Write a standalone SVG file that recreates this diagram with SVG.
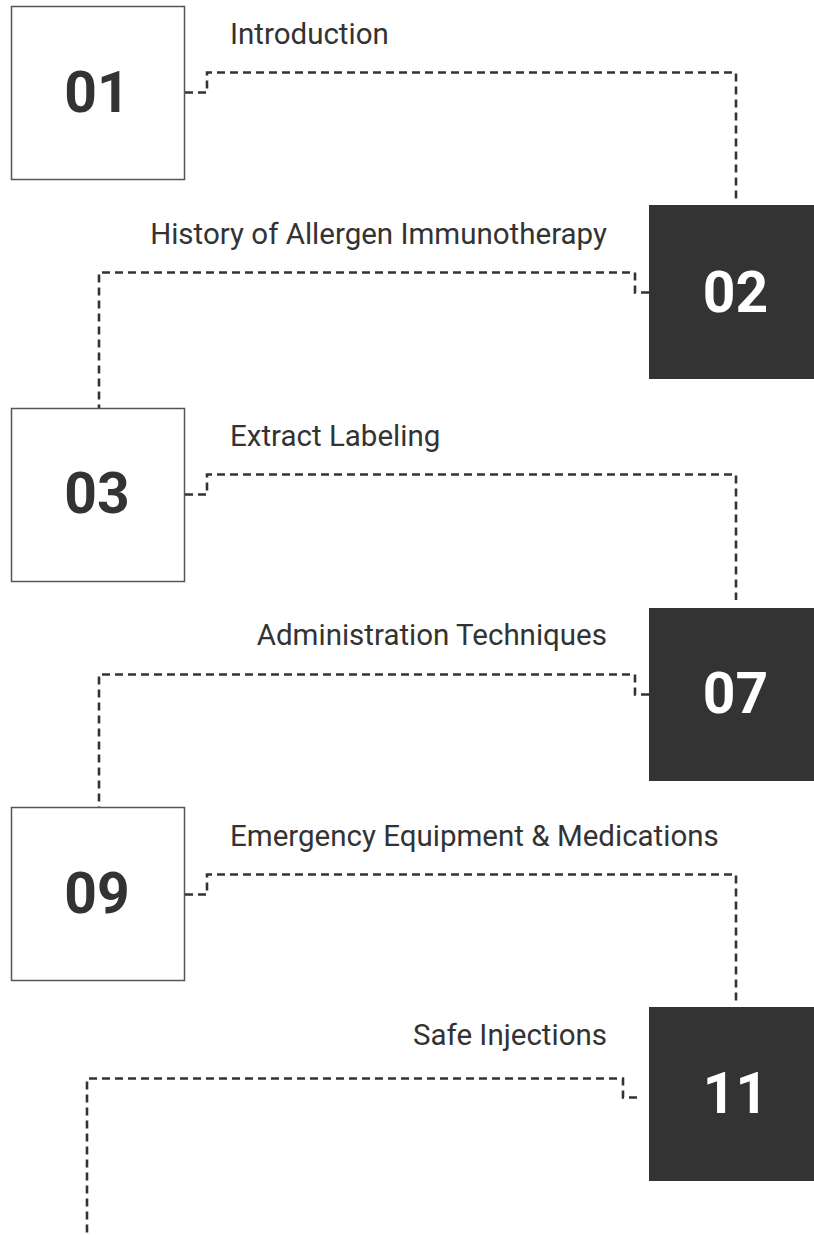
<svg xmlns="http://www.w3.org/2000/svg" width="814" height="1235" viewBox="0 0 814 1235">
<style>
.lb{fill:#fff;stroke:#555;stroke-width:1.5}
.db{fill:#333;stroke:none}
.num{font-family:Roboto,"Liberation Sans",sans-serif;font-weight:bold;font-size:57px;text-anchor:middle}
.nl{fill:#333}
.nd{fill:#fff}
.lbl{font-family:Roboto,"Liberation Sans",sans-serif;font-weight:400;font-size:29.5px;fill:#333}
.end{text-anchor:end}
.con{fill:none;stroke:#333;stroke-width:2.6;stroke-dasharray:8 5}
</style>
<rect width="814" height="1235" fill="#fff"/>
<g id="connectors">
<path class="con" d="M185,92.5 H207 V72.5 H736 V200"/>
<path class="con" d="M649,292.5 H635 V272.5 H99 V408"/>
<path class="con" d="M185,494.5 H207 V474.5 H736 V600"/>
<path class="con" d="M649,694.5 H635 V674.5 H99 V807"/>
<path class="con" d="M185,894.5 H207 V874.5 H736 V1002"/>
<path class="con" d="M637,1097.5 H623 V1078.5 H87 V1235"/>
</g>
<g id="node-01">
<rect class="lb" x="11.5" y="6.5" width="173" height="173"/>
<text class="num nl" x="97" y="112">01</text>
<text class="lbl" x="230" y="44">Introduction</text>
</g>
<g id="node-02">
<rect class="db" x="649" y="205" width="173" height="174"/>
<text class="num nd" x="735.5" y="312">02</text>
<text class="lbl end" x="607" y="244">History of Allergen Immunotherapy</text>
</g>
<g id="node-03">
<rect class="lb" x="11.5" y="408.5" width="173" height="173"/>
<text class="num nl" x="97" y="513">03</text>
<text class="lbl" x="230" y="446">Extract Labeling</text>
</g>
<g id="node-07">
<rect class="db" x="649" y="608" width="173" height="173"/>
<text class="num nd" x="735.5" y="713">07</text>
<text class="lbl end" x="607" y="645">Administration Techniques</text>
</g>
<g id="node-09">
<rect class="lb" x="11.5" y="807.5" width="173" height="173"/>
<text class="num nl" x="97" y="913">09</text>
<text class="lbl" x="230" y="846">Emergency Equipment &amp; Medications</text>
</g>
<g id="node-11">
<rect class="db" x="649" y="1007" width="173" height="174"/>
<text class="num nd" x="735.5" y="1113">11</text>
<text class="lbl end" x="607" y="1045">Safe Injections</text>
</g>
</svg>
